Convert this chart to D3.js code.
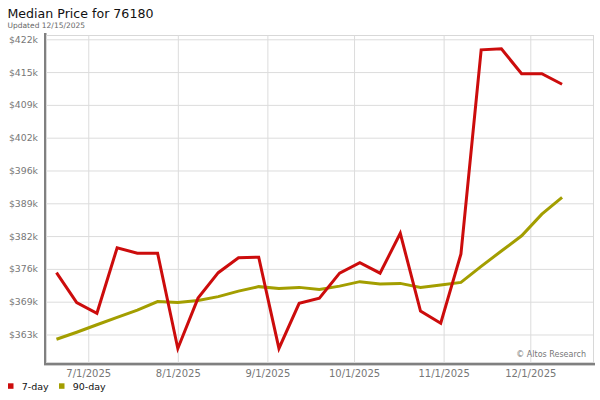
<!DOCTYPE html>
<html>
<head>
<meta charset="utf-8">
<script src="https://cdn.jsdelivr.net/npm/d3@7"></script>
<style>
  body { margin: 0; background: #fff; }
  svg { font-family: "DejaVu Sans", sans-serif; display: block; }
</style>
</head>
<body>
<div id="chart"></div>
<script>
const weekDates = ["2025-06-20", "2025-06-27", "2025-07-04", "2025-07-11", "2025-07-18", "2025-07-25",
  "2025-08-01", "2025-08-08", "2025-08-15", "2025-08-22", "2025-08-29", "2025-09-05", "2025-09-12",
  "2025-09-19", "2025-09-26", "2025-10-03", "2025-10-10", "2025-10-17", "2025-10-24", "2025-10-31",
  "2025-11-07", "2025-11-14", "2025-11-21", "2025-11-28", "2025-12-05", "2025-12-12"];

const sevenDay = [375000, 369000, 366850, 380000, 378900, 378900, 359800, 369900, 375000, 378000,
  378100, 359800, 368850, 369900, 374900, 377000, 374900, 382900, 367300, 364850, 378750, 419700,
  419900, 414900, 414900, 412800];

const ninetyDay = [361650, 363050, 364550, 366050, 367500, 369200, 369000, 369400, 370200, 371300,
  372200, 371850, 372050, 371650, 372300, 373200, 372750, 372850, 372050, 372550, 373050, 376250,
  379350, 382400, 386750, 390100];

const yTickValues = [362600, 369180, 375760, 382340, 388920, 395500, 402080, 408660, 415240, 421820];
const yTickLabels = ["$363k", "$369k", "$376k", "$382k", "$389k", "$396k", "$402k", "$409k", "$415k", "$422k"];
const xTickDates = ["2025-07-01", "2025-08-01", "2025-09-01", "2025-10-01", "2025-11-01", "2025-12-01"];
const xTickLabels = ["7/1/2025", "8/1/2025", "9/1/2025", "10/1/2025", "11/1/2025", "12/1/2025"];

const seriesNames = ["7-day", "90-day"];
const seriesColors = ["#cc0c0c", "#a39e00"];

const width = 600, height = 400;
const plot = { left: 46, right: 593, top: 35.5, bottom: 363 };
const parse = d3.timeParse("%Y-%m-%d");

const svg = d3.select("#chart").append("svg")
  .attr("width", width)
  .attr("height", height);

const x = d3.scaleTime()
  .domain([new Date(2025, 5, 16, 9), new Date(2025, 11, 22, 17)])
  .range([plot.left, plot.right]);

const y = d3.scaleLinear()
  .domain([356880, 422580])
  .range([plot.bottom, plot.top]);

svg.append("text")
  .attr("x", 7.5)
  .attr("y", 18.3)
  .attr("font-size", "12.6px")
  .attr("fill", "#111")
  .text("Median Price for 76180");

svg.append("text")
  .attr("x", 7.5)
  .attr("y", 27.5)
  .attr("font-size", "7.5px")
  .attr("fill", "#666")
  .text("Updated 12/15/2025");

// shadow bars on left and bottom
svg.append("rect")
  .attr("x", 44)
  .attr("y", 33)
  .attr("width", 2.5)
  .attr("height", 332)
  .attr("fill", "#808080");

svg.append("rect")
  .attr("x", 44)
  .attr("y", 362.8)
  .attr("width", 551)
  .attr("height", 2.6)
  .attr("fill", "#808080");

svg.append("rect")
  .attr("x", plot.left + 0.5)
  .attr("y", plot.top)
  .attr("width", plot.right - plot.left)
  .attr("height", plot.bottom - plot.top - 0.5)
  .attr("fill", "none")
  .attr("stroke", "#d8d8d8")
  .attr("stroke-width", 1);

const yAxis = d3.axisLeft(y)
  .tickValues(yTickValues)
  .tickFormat((d, i) => yTickLabels[i])
  .tickSize(-(plot.right - plot.left))
  .tickPadding(8);

svg.append("g")
  .attr("transform", `translate(${plot.left},0)`)
  .call(yAxis)
  .call(g => g.select(".domain").remove())
  .call(g => g.selectAll(".tick line").attr("stroke", "#dcdcdc"))
  .call(g => g.selectAll(".tick text")
    .attr("fill", "#777")
    .attr("font-size", "9.3px")
    .attr("font-family", "DejaVu Sans"));

const xAxis = d3.axisBottom(x)
  .tickValues(xTickDates.map(parse))
  .tickFormat((d, i) => xTickLabels[i])
  .tickSize(-(plot.bottom - plot.top))
  .tickPadding(7);

svg.append("g")
  .attr("transform", `translate(0,${plot.bottom})`)
  .call(xAxis)
  .call(g => g.select(".domain").remove())
  .call(g => g.selectAll(".tick line").attr("stroke", "#dcdcdc"))
  .call(g => g.selectAll(".tick text")
    .attr("fill", "#777")
    .attr("font-size", "10px")
    .attr("font-family", "DejaVu Sans"));

svg.append("text")
  .attr("x", 586)
  .attr("y", 356.7)
  .attr("text-anchor", "end")
  .attr("font-size", "8px")
  .attr("fill", "#777")
  .text("\u00a9 Altos Research");

const line = d3.line()
  .x(d => x(d.date))
  .y(d => y(d.value));

[ninetyDay, sevenDay].forEach((values, k) => {
  let idx = k === 0 ? 1 : 0;
  let pts = values.map((v, i) => ({ date: parse(weekDates[i]), value: v }));
  svg.append("path")
    .datum(pts)
    .attr("d", line)
    .attr("fill", "none")
    .attr("stroke", seriesColors[idx])
    .attr("stroke-width", 3);
});

const legend = svg.append("g")
  .attr("transform", "translate(0,383)");

let legendX = [8, 59];
seriesNames.forEach((name, i) => {
  legend.append("rect")
    .attr("x", legendX[i])
    .attr("y", 0.3)
    .attr("width", 5.5)
    .attr("height", 5.5)
    .attr("fill", seriesColors[i]);
  legend.append("text")
    .attr("x", legendX[i] + 13.7)
    .attr("y", 7)
    .attr("font-size", "9.5px")
    .attr("fill", "#111")
    .text(name);
});
</script>
</body>
</html>
